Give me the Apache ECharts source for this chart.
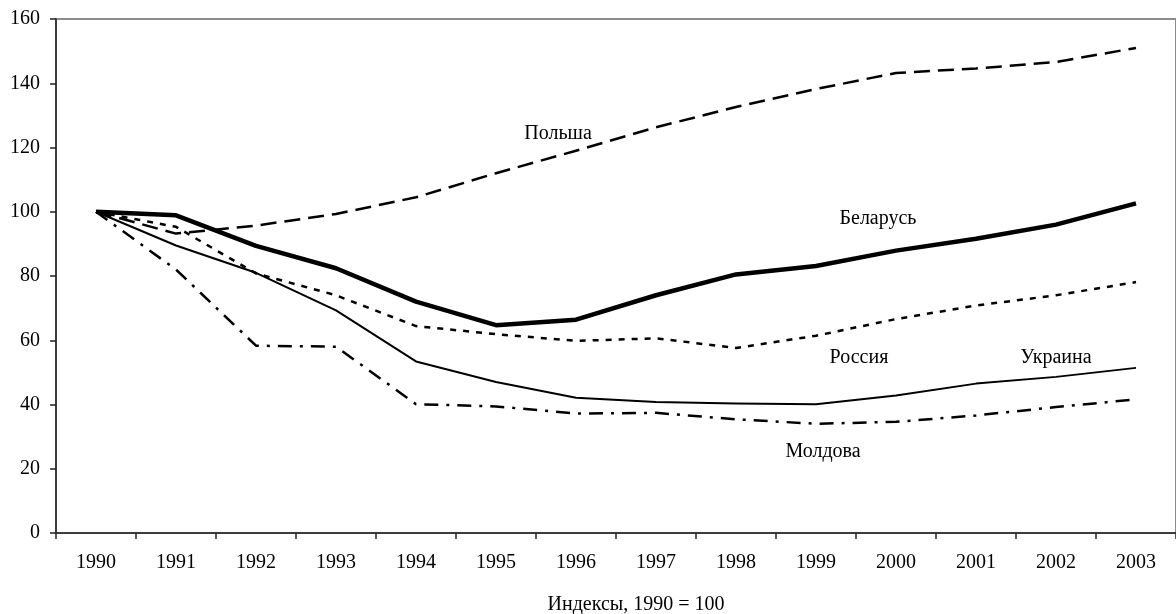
<!DOCTYPE html>
<html>
<head>
<meta charset="utf-8">
<script src="https://cdn.jsdelivr.net/npm/echarts@6/dist/echarts.min.js"></script>
<style>html,body{margin:0;padding:0;background:#fff;}#c{width:1176px;height:614px;}</style>
</head>
<body>
<div id="c"></div>
<script>
const years = ['1990','1991','1992','1993','1994','1995','1996','1997','1998','1999','2000','2001','2002','2003'];
const belarus = [100, 98.9, 89.4, 82.4, 72.0, 64.7, 66.4, 74.0, 80.5, 83.1, 87.9, 91.6, 96.0, 102.6];
const poland  = [100, 93.2, 95.7, 99.3, 104.5, 112.0, 119.0, 126.3, 132.6, 138.2, 143.2, 144.6, 146.6, 151.0];
const russia  = [100, 95.3, 80.8, 74.0, 64.4, 61.9, 59.8, 60.6, 57.6, 61.4, 66.6, 70.8, 74.0, 78.1];
const ukraine = [100, 89.5, 81.0, 69.3, 53.4, 47.0, 42.1, 40.8, 40.3, 40.1, 42.8, 46.5, 48.6, 51.4];
const moldova = [100, 82.0, 58.3, 58.0, 40.1, 39.4, 37.2, 37.4, 35.4, 34.0, 34.6, 36.6, 39.2, 41.6];
const yTicks = [0, 20, 40, 60, 80, 100, 120, 140, 160];
const axisTitle = 'Индексы, 1990 = 100';
const seriesNames = ['Польша', 'Беларусь', 'Россия', 'Украина', 'Молдова'];

const FONT = '"Liberation Serif", "DejaVu Serif", serif';
const FS = 20;
const chart = echarts.init(document.getElementById('c'), null, {renderer: 'canvas'});

function lineSeries(name, data, width, dash) {
  return {
    name: name, type: 'line', data: data, symbol: 'none', smooth: false,
    lineStyle: {color: '#000', width: width, type: dash, cap: 'butt', join: 'round'},
    z: 3, animation: false
  };
}

const labelPos = {
  'Польша':   [558, 134],
  'Беларусь': [878, 219],
  'Россия':   [859, 358],
  'Украина':  [1056, 358],
  'Молдова':  [823, 452]
};

chart.setOption({
  animation: false,
  backgroundColor: '#fff',
  grid: {left: 56, top: 19, width: 1126, height: 514, show: true, borderColor: '#8c8c8c', borderWidth: 2, backgroundColor: 'transparent'},
  title: {
    text: axisTitle, left: 631, top: 590, textAlign: 'center',
    textStyle: {fontFamily: FONT, fontSize: FS, fontWeight: 'normal', color: '#000'}
  },
  xAxis: {
    type: 'category', data: years, boundaryGap: true,
    axisLine: {show: true, lineStyle: {color: '#222', width: 1.5}},
    axisTick: {show: true, inside: false, length: 6, alignWithLabel: false, lineStyle: {color: '#222', width: 1.5}},
    axisLabel: {fontFamily: FONT, fontSize: FS, color: '#000', margin: 20, interval: 0},
    splitLine: {show: false}
  },
  yAxis: {
    type: 'value', min: yTicks[0], max: yTicks[yTicks.length - 1], interval: 20,
    axisLine: {show: true, lineStyle: {color: '#222', width: 1.5}},
    axisTick: {show: true, length: 6, lineStyle: {color: '#222', width: 1.5}},
    axisLabel: {fontFamily: FONT, fontSize: FS, color: '#000', margin: 16},
    splitLine: {show: false}
  },
  series: [
    lineSeries(seriesNames[0], poland, 2.5, [16, 8]),
    lineSeries(seriesNames[1], belarus, 4.5, 'solid'),
    lineSeries(seriesNames[2], russia, 2.5, [6, 7]),
    lineSeries(seriesNames[3], ukraine, 2, 'solid'),
    lineSeries(seriesNames[4], moldova, 2.5, [14, 8, 3, 8])
  ],
  graphic: seriesNames.map(n => ({
    type: 'text', x: labelPos[n][0], y: labelPos[n][1], z: 10,
    style: {text: n, fontFamily: FONT, fontSize: FS, fill: '#000', align: 'center', verticalAlign: 'middle'}
  }))
});
</script>
</body>
</html>
